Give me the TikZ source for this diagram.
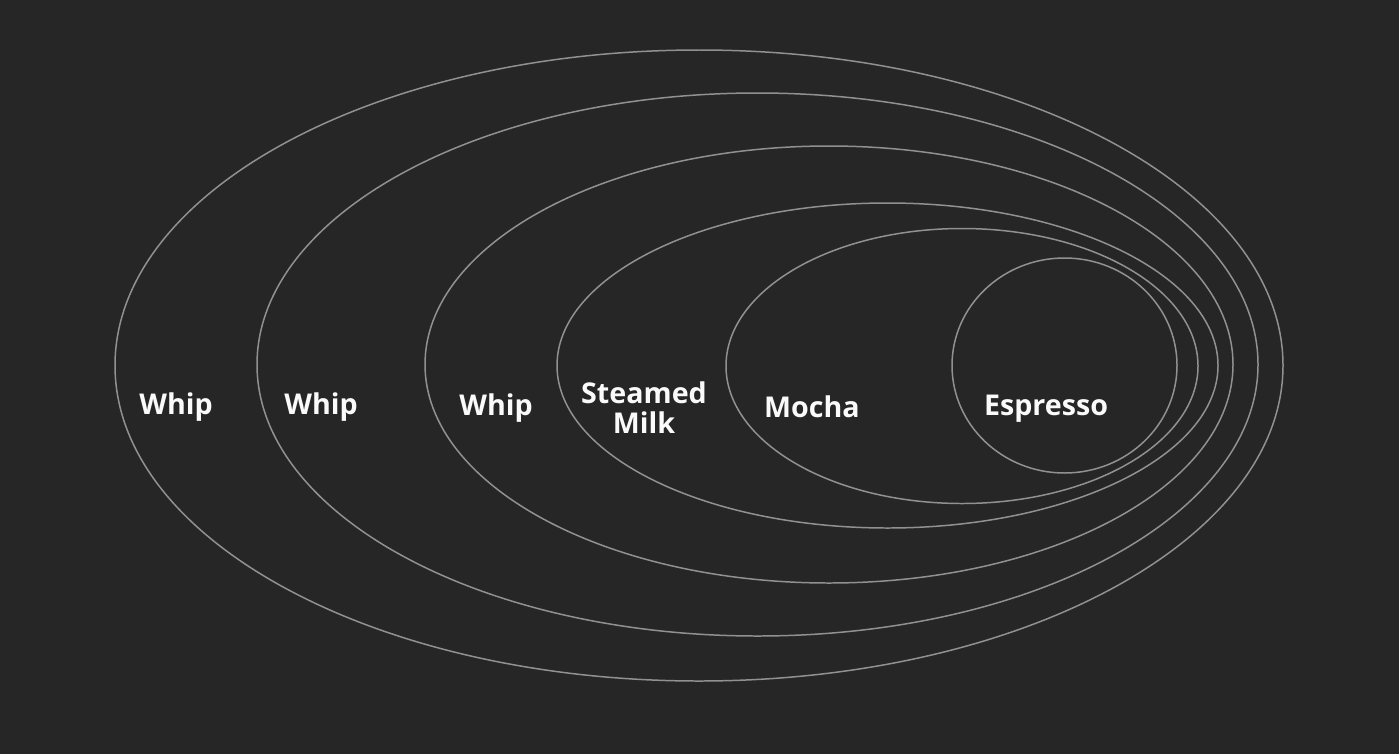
\documentclass[tikz,border=0pt]{standalone}
\usepackage{fontspec}
\setmainfont{Open Sans}
\usepackage{tikz}
\usetikzlibrary{positioning}
\definecolor{board}{RGB}{38,38,38}
\definecolor{rim}{RGB}{145,145,145}
\definecolor{chalk}{RGB}{250,250,250}

\begin{document}
\begin{tikzpicture}[x=0.02cm, y=-0.02cm,
  layer/.style={draw=rim, line width=0.85pt},
  lbl/.style={text=chalk, font=\fontsize{16.3}{17}\selectfont\bfseries, inner sep=0pt, anchor=base, align=center}]
\fill[board] (0,0) rectangle (1399,754);
% nested wrappers, outermost first: centre x, centre y, x radius, y radius
\foreach \cx/\cy/\rx/\ry in {699/365.5/584/315.5, 757.5/364.5/500.5/271.5, 829/364.5/404/218.5,
    887.5/365.5/330.5/162.5, 962/366/236/137.5, 1064.5/365.5/112.5/107.5}
  \draw[layer] (\cx,\cy) ellipse [x radius=\rx, y radius=\ry];
\node[lbl] (whipa) at (176,414) {Whip};
\node[lbl] (whipb) at (321,414) {Whip};
\node[lbl] (whipc) at (496,415) {Whip};
\node[lbl] (milk) at (644,433) {Steamed\\Milk};
\node[lbl] (mocha) at (812,417) {Mocha};
\node[lbl] (espresso) at (1046,415) {Espresso};
\end{tikzpicture}
\end{document}
